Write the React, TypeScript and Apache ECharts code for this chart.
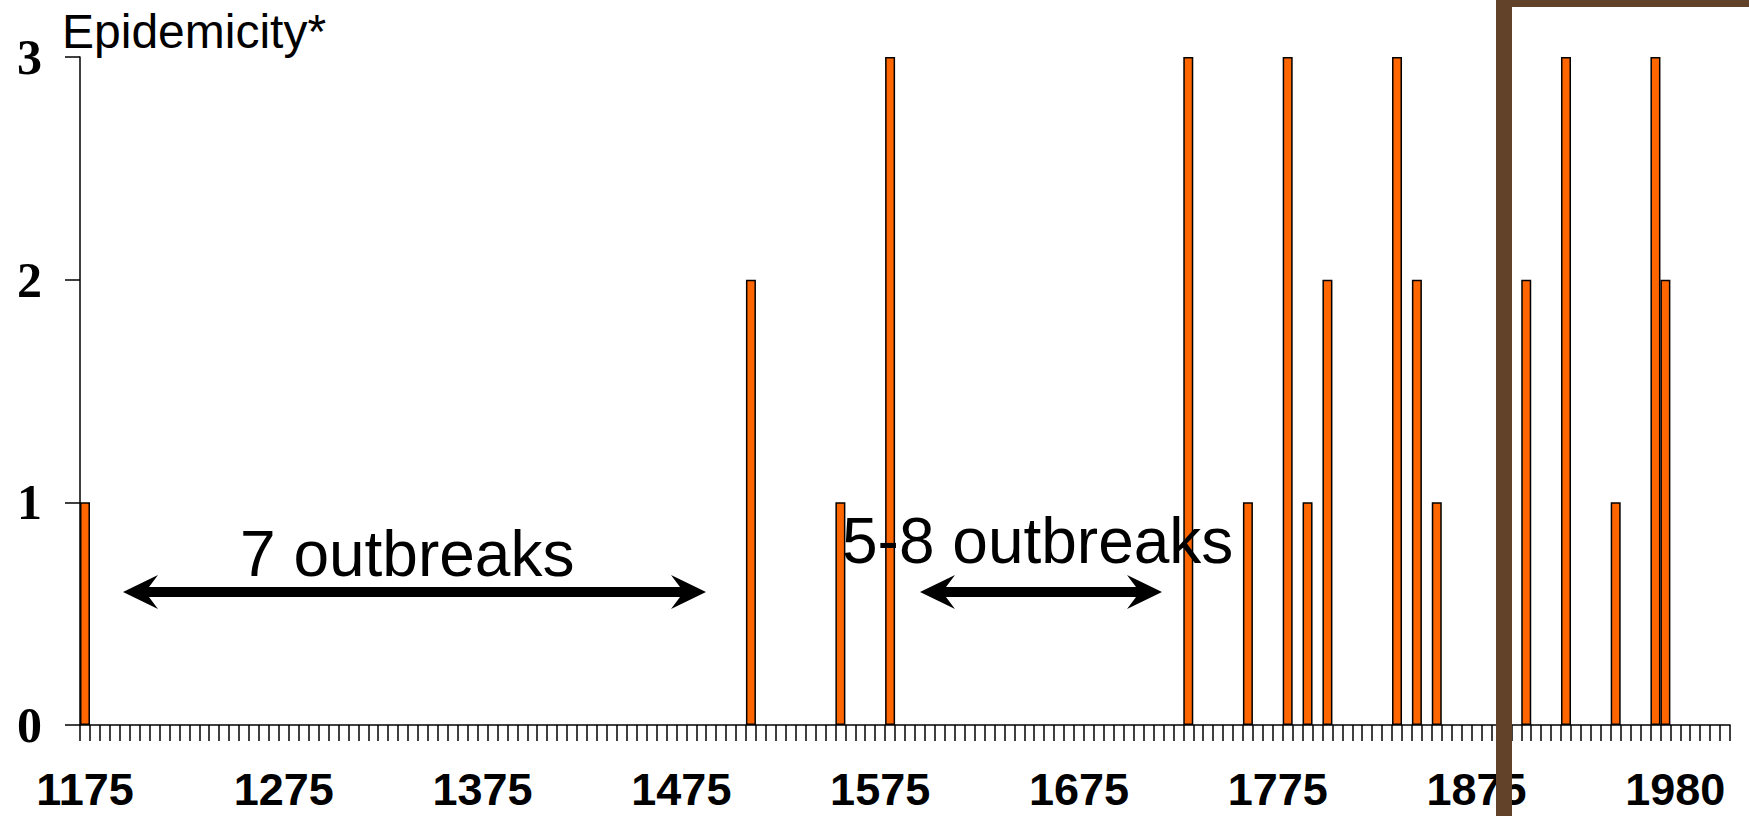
import React, { useEffect, useRef } from "react";
import * as echarts from "echarts";

// ---- Data ----
const START_YEAR = 1175;
const YEAR_STEP = 5;
const CATEGORY_COUNT = 166;
const categoryYears: string[] = Array.from({ length: CATEGORY_COUNT }, (_, i) => String(START_YEAR + i * YEAR_STEP));

const outbreakYears = [1175, 1510, 1555, 1580, 1730, 1760, 1780, 1790, 1800, 1835, 1845, 1855, 1900, 1920, 1945, 1965, 1970];
const epidemicity = [1, 2, 1, 3, 3, 1, 3, 1, 2, 3, 2, 1, 2, 3, 1, 3, 2];

const xTickIndices = [0, 20, 40, 60, 80, 100, 120, 140, 160];
const xTickLabels = ["1175", "1275", "1375", "1475", "1575", "1675", "1775", "1875", "1980"];

const yAxisTitle = "Epidemicity*";
const annotationLeft = "7 outbreaks";
const annotationRight = "5-8 outbreaks";

function arrowPoints(x1: number, x2: number, y: number) {
  const L = 35, H = 17, N = 26, t = 5;
  return [
    [x1, y], [x1 + L, y - H], [x1 + N, y - t], [x2 - N, y - t], [x2 - L, y - H],
    [x2, y], [x2 - L, y + H], [x2 - N, y + t], [x1 + N, y + t], [x1 + L, y + H],
  ];
}

export default function App() {
  const ref = useRef<HTMLDivElement>(null);
  useEffect(() => {
    if (!ref.current) return;
    const chart = echarts.init(ref.current, undefined, { renderer: "svg" });
    const seriesData: (number | null)[] = categoryYears.map(() => null);
    outbreakYears.forEach((yr, k) => {
      const idx = categoryYears.indexOf(String(yr));
      if (idx >= 0) seriesData[idx] = epidemicity[k];
    });

    chart.setOption({
      animation: false,
      backgroundColor: "#ffffff",
      grid: { left: 80, top: 57, width: 1650, height: 668, containLabel: false },
      xAxis: {
        type: "category",
        data: categoryYears,
        boundaryGap: true,
        axisLine: { show: true, lineStyle: { color: "#000", width: 1.5 } },
        axisTick: { show: true, interval: 0, length: 16, inside: false, lineStyle: { color: "#000", width: 1.5 } },
        axisLabel: {
          interval: (i: number) => xTickIndices.includes(i),
          formatter: (_v: string, i: number) => {
            const k = xTickIndices.indexOf(i);
            return k >= 0 ? xTickLabels[k] : "";
          },
          fontFamily: "Liberation Sans",
          fontWeight: "bold",
          fontSize: 45,
          lineHeight: 45,
          color: "#000",
          margin: 42,
        },
        splitLine: { show: false },
      },
      yAxis: {
        type: "value",
        min: 0,
        max: 3,
        interval: 1,
        axisLine: { show: true, lineStyle: { color: "#000", width: 1.5 } },
        axisTick: { show: true, length: 15, lineStyle: { color: "#000", width: 1.5 } },
        axisLabel: {
          fontFamily: "Liberation Serif",
          fontWeight: "bold",
          fontSize: 50,
          color: "#000",
          margin: 38,
        },
        splitLine: { show: false },
      },
      series: [
        {
          type: "bar",
          data: seriesData,
          barWidth: 10,
          itemStyle: { color: "#FF6600", borderColor: "#000", borderWidth: 1.5 },
          z: 2,
        },
      ],
      graphic: [
        {
          type: "text",
          z: 50,
          style: { text: yAxisTitle, x: 62, y: 31, fontSize: 48, fontFamily: "Liberation Sans", fill: "#000", verticalAlign: "middle", align: "left" },
        },
        {
          type: "text",
          z: 50,
          style: { text: annotationLeft, x: 240, y: 554, fontSize: 64, fontFamily: "Liberation Sans", fill: "#000", verticalAlign: "middle", align: "left" },
        },
        {
          type: "text",
          z: 50,
          style: { text: annotationRight, x: 842, y: 541, fontSize: 64, fontFamily: "Liberation Sans", fill: "#000", verticalAlign: "middle", align: "left" },
        },
        { type: "polygon", z: 50, shape: { points: arrowPoints(123, 706, 592) }, style: { fill: "#000" } },
        { type: "polygon", z: 50, shape: { points: arrowPoints(920, 1162, 592) }, style: { fill: "#000" } },
        {
          type: "rect",
          z: 60,
          shape: { x: 1504, y: -1, width: 400, height: 1000 },
          style: { fill: "none", stroke: "#62432A", lineWidth: 16 },
        },
      ],
    });
    return () => chart.dispose();
  }, []);
  return (
    <div
      ref={ref}
      style={{ position: "fixed", left: 0, top: 0, width: 1749, height: 816, background: "#fff" }}
    />
  );
}
